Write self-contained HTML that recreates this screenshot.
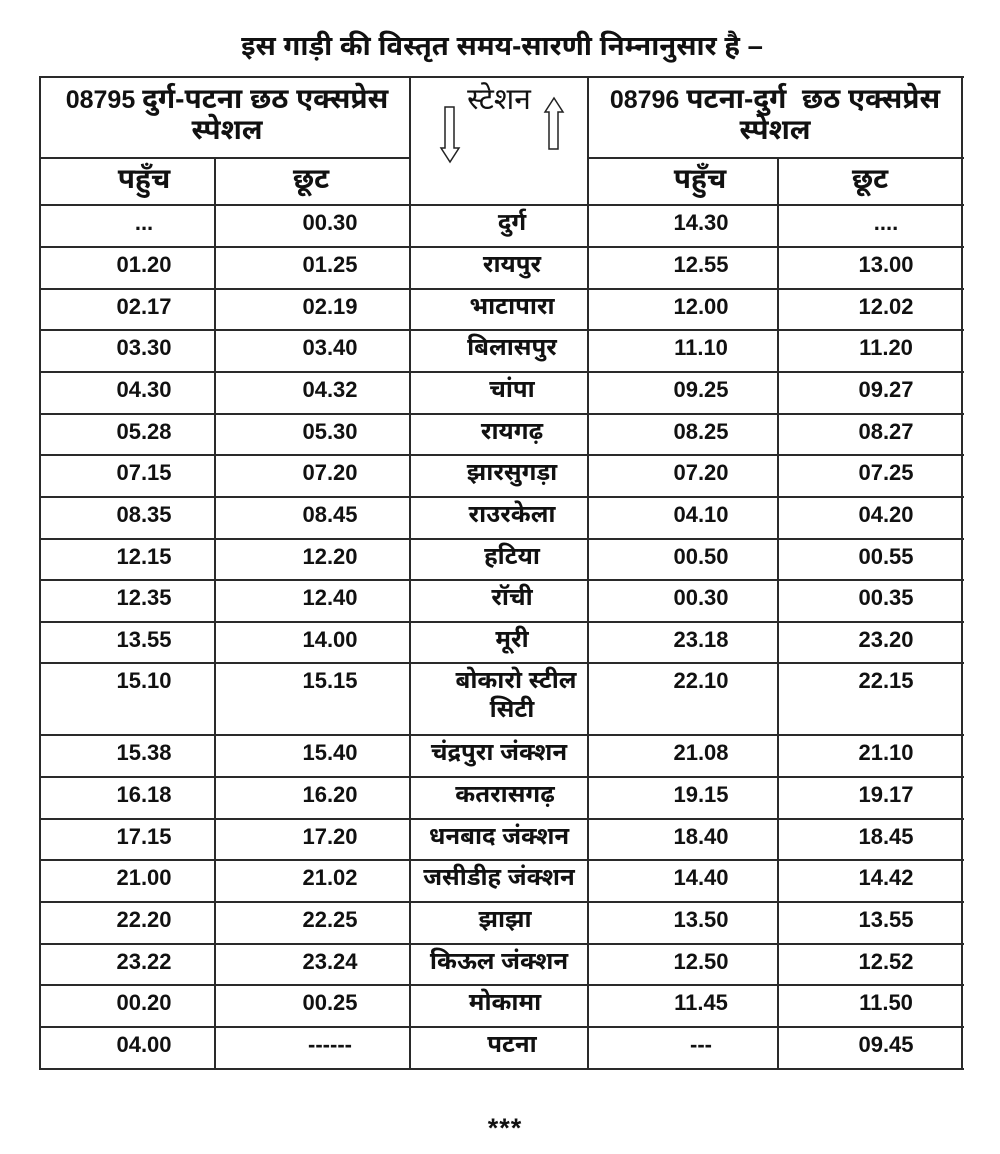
<!DOCTYPE html>
<html>
<head>
<meta charset="utf-8">
<style>
  html,body{margin:0;padding:0;background:#fff;}
  body{width:1000px;height:1154px;position:relative;overflow:hidden;
       font-family:"Liberation Sans","Noto Sans Devanagari","Lohit Devanagari","Mangal","DejaVu Sans",sans-serif;color:#111;}
  .h{position:absolute;height:2px;background:#2a2a2a;}
  .v{position:absolute;width:2px;background:#2a2a2a;}
  .t{position:absolute;text-align:center;white-space:nowrap;font-weight:bold;}
  .n{font-size:22px;line-height:35px;width:180px;}
  .s{font-size:24px;line-height:35px;width:240px;}
  .d{font-size:28px;}
</style>
</head>
<body>
<!-- Title -->
<div class="t" style="left:102px;width:800px;top:30px;font-size:27.5px;line-height:32px;">इस गाड़ी की विस्तृत समय-सारणी निम्नानुसार है –</div>

<!-- Grid lines: horizontal -->
<div class="h" style="left:40px;width:924px;top:76px;"></div>
<div class="h" style="left:40px;width:371px;top:157px;"></div>
<div class="h" style="left:588px;width:376px;top:157px;"></div>
<div class="h" style="left:40px;width:924px;top:204px;"></div>
<div class="h" style="left:40px;width:924px;top:246px;"></div>
<div class="h" style="left:40px;width:924px;top:288px;"></div>
<div class="h" style="left:40px;width:924px;top:329px;"></div>
<div class="h" style="left:40px;width:924px;top:371px;"></div>
<div class="h" style="left:40px;width:924px;top:413px;"></div>
<div class="h" style="left:40px;width:924px;top:454px;"></div>
<div class="h" style="left:40px;width:924px;top:496px;"></div>
<div class="h" style="left:40px;width:924px;top:538px;"></div>
<div class="h" style="left:40px;width:924px;top:579px;"></div>
<div class="h" style="left:40px;width:924px;top:621px;"></div>
<div class="h" style="left:40px;width:924px;top:662px;"></div>
<div class="h" style="left:40px;width:924px;top:734px;"></div>
<div class="h" style="left:40px;width:924px;top:776px;"></div>
<div class="h" style="left:40px;width:924px;top:818px;"></div>
<div class="h" style="left:40px;width:924px;top:859px;"></div>
<div class="h" style="left:40px;width:924px;top:901px;"></div>
<div class="h" style="left:40px;width:924px;top:943px;"></div>
<div class="h" style="left:40px;width:924px;top:984px;"></div>
<div class="h" style="left:40px;width:924px;top:1026px;"></div>
<div class="h" style="left:40px;width:924px;top:1068px;"></div>

<!-- vertical -->
<div class="v" style="left:39px;top:76px;height:994px;"></div>
<div class="v" style="left:214px;top:157px;height:913px;"></div>
<div class="v" style="left:409px;top:76px;height:994px;"></div>
<div class="v" style="left:587px;top:76px;height:994px;"></div>
<div class="v" style="left:777px;top:157px;height:913px;"></div>
<div class="v" style="left:961px;top:76px;height:994px;"></div>

<!-- Header -->
<div class="t" style="left:47px;width:360px;top:83px;font-size:25px;line-height:31px;">08795 <span class="d">दुर्ग-पटना छठ एक्सप्रेस</span></div>
<div class="t" style="left:47px;width:360px;top:114px;font-size:28px;line-height:31px;">स्पेशल</div>
<div class="t" style="left:595px;width:360px;top:83px;font-size:25px;line-height:31px;">08796 <span class="d">पटना-दुर्ग&nbsp; छठ एक्सप्रेस</span></div>
<div class="t" style="left:595px;width:360px;top:114px;font-size:28px;line-height:31px;">स्पेशल</div>

<div class="t" style="left:419px;width:160px;top:85px;font-size:30px;line-height:30px;font-weight:normal;">स्टेशन</div>
<svg style="position:absolute;left:0;top:0;" width="1000" height="200">
  <path d="M445,107 L454,107 L454,148 L459,148 L450,162 L441,148 L445,148 Z" fill="none" stroke="#222" stroke-width="1.5"/>
  <path d="M549,149 L558,149 L558,112 L563,112 L554,98 L545,112 L549,112 Z" fill="none" stroke="#222" stroke-width="1.5"/>
</svg>

<div class="t" style="left:64px;width:160px;top:163px;font-size:28px;line-height:31px;">पहुँच</div>
<div class="t" style="left:231px;width:160px;top:163px;font-size:28px;line-height:31px;">छूट</div>
<div class="t" style="left:620px;width:160px;top:163px;font-size:28px;line-height:31px;">पहुँच</div>
<div class="t" style="left:790px;width:160px;top:163px;font-size:28px;line-height:31px;">छूट</div>

<!-- Rows -->
<div class="t n" style="left:54px;top:205px;">...</div>
<div class="t n" style="left:240px;top:205px;">00.30</div>
<div class="t s" style="left:392px;top:205px;">दुर्ग</div>
<div class="t n" style="left:611px;top:205px;">14.30</div>
<div class="t n" style="left:796px;top:205px;">....</div>

<div class="t n" style="left:54px;top:247px;">01.20</div>
<div class="t n" style="left:240px;top:247px;">01.25</div>
<div class="t s" style="left:392px;top:247px;">रायपुर</div>
<div class="t n" style="left:611px;top:247px;">12.55</div>
<div class="t n" style="left:796px;top:247px;">13.00</div>

<div class="t n" style="left:54px;top:289px;">02.17</div>
<div class="t n" style="left:240px;top:289px;">02.19</div>
<div class="t s" style="left:392px;top:289px;">भाटापारा</div>
<div class="t n" style="left:611px;top:289px;">12.00</div>
<div class="t n" style="left:796px;top:289px;">12.02</div>

<div class="t n" style="left:54px;top:330px;">03.30</div>
<div class="t n" style="left:240px;top:330px;">03.40</div>
<div class="t s" style="left:392px;top:330px;">बिलासपुर</div>
<div class="t n" style="left:611px;top:330px;">11.10</div>
<div class="t n" style="left:796px;top:330px;">11.20</div>

<div class="t n" style="left:54px;top:372px;">04.30</div>
<div class="t n" style="left:240px;top:372px;">04.32</div>
<div class="t s" style="left:392px;top:372px;">चांपा</div>
<div class="t n" style="left:611px;top:372px;">09.25</div>
<div class="t n" style="left:796px;top:372px;">09.27</div>

<div class="t n" style="left:54px;top:414px;">05.28</div>
<div class="t n" style="left:240px;top:414px;">05.30</div>
<div class="t s" style="left:392px;top:414px;">रायगढ़</div>
<div class="t n" style="left:611px;top:414px;">08.25</div>
<div class="t n" style="left:796px;top:414px;">08.27</div>

<div class="t n" style="left:54px;top:455px;">07.15</div>
<div class="t n" style="left:240px;top:455px;">07.20</div>
<div class="t s" style="left:392px;top:455px;">झारसुगड़ा</div>
<div class="t n" style="left:611px;top:455px;">07.20</div>
<div class="t n" style="left:796px;top:455px;">07.25</div>

<div class="t n" style="left:54px;top:497px;">08.35</div>
<div class="t n" style="left:240px;top:497px;">08.45</div>
<div class="t s" style="left:392px;top:497px;">राउरकेला</div>
<div class="t n" style="left:611px;top:497px;">04.10</div>
<div class="t n" style="left:796px;top:497px;">04.20</div>

<div class="t n" style="left:54px;top:539px;">12.15</div>
<div class="t n" style="left:240px;top:539px;">12.20</div>
<div class="t s" style="left:392px;top:539px;">हटिया</div>
<div class="t n" style="left:611px;top:539px;">00.50</div>
<div class="t n" style="left:796px;top:539px;">00.55</div>

<div class="t n" style="left:54px;top:580px;">12.35</div>
<div class="t n" style="left:240px;top:580px;">12.40</div>
<div class="t s" style="left:392px;top:580px;">रॉची</div>
<div class="t n" style="left:611px;top:580px;">00.30</div>
<div class="t n" style="left:796px;top:580px;">00.35</div>

<div class="t n" style="left:54px;top:622px;">13.55</div>
<div class="t n" style="left:240px;top:622px;">14.00</div>
<div class="t s" style="left:392px;top:622px;">मूरी</div>
<div class="t n" style="left:611px;top:622px;">23.18</div>
<div class="t n" style="left:796px;top:622px;">23.20</div>

<div class="t n" style="left:54px;top:663px;">15.10</div>
<div class="t n" style="left:240px;top:663px;">15.15</div>
<div class="t s" style="left:396px;top:663px;">बोकारो स्टील</div>
<div class="t s" style="left:392px;top:692px;">सिटी</div>
<div class="t n" style="left:611px;top:663px;">22.10</div>
<div class="t n" style="left:796px;top:663px;">22.15</div>

<div class="t n" style="left:54px;top:735px;">15.38</div>
<div class="t n" style="left:240px;top:735px;">15.40</div>
<div class="t s" style="left:379px;top:735px;">चंद्रपुरा जंक्शन</div>
<div class="t n" style="left:611px;top:735px;">21.08</div>
<div class="t n" style="left:796px;top:735px;">21.10</div>

<div class="t n" style="left:54px;top:777px;">16.18</div>
<div class="t n" style="left:240px;top:777px;">16.20</div>
<div class="t s" style="left:385px;top:777px;">कतरासगढ़</div>
<div class="t n" style="left:611px;top:777px;">19.15</div>
<div class="t n" style="left:796px;top:777px;">19.17</div>

<div class="t n" style="left:54px;top:819px;">17.15</div>
<div class="t n" style="left:240px;top:819px;">17.20</div>
<div class="t s" style="left:379px;top:819px;">धनबाद जंक्शन</div>
<div class="t n" style="left:611px;top:819px;">18.40</div>
<div class="t n" style="left:796px;top:819px;">18.45</div>

<div class="t n" style="left:54px;top:860px;">21.00</div>
<div class="t n" style="left:240px;top:860px;">21.02</div>
<div class="t s" style="left:379px;top:860px;">जसीडीह जंक्शन</div>
<div class="t n" style="left:611px;top:860px;">14.40</div>
<div class="t n" style="left:796px;top:860px;">14.42</div>

<div class="t n" style="left:54px;top:902px;">22.20</div>
<div class="t n" style="left:240px;top:902px;">22.25</div>
<div class="t s" style="left:385px;top:902px;">झाझा</div>
<div class="t n" style="left:611px;top:902px;">13.50</div>
<div class="t n" style="left:796px;top:902px;">13.55</div>

<div class="t n" style="left:54px;top:944px;">23.22</div>
<div class="t n" style="left:240px;top:944px;">23.24</div>
<div class="t s" style="left:379px;top:944px;">किऊल जंक्शन</div>
<div class="t n" style="left:611px;top:944px;">12.50</div>
<div class="t n" style="left:796px;top:944px;">12.52</div>

<div class="t n" style="left:54px;top:985px;">00.20</div>
<div class="t n" style="left:240px;top:985px;">00.25</div>
<div class="t s" style="left:385px;top:985px;">मोकामा</div>
<div class="t n" style="left:611px;top:985px;">11.45</div>
<div class="t n" style="left:796px;top:985px;">11.50</div>

<div class="t n" style="left:54px;top:1027px;">04.00</div>
<div class="t n" style="left:240px;top:1027px;">------</div>
<div class="t s" style="left:392px;top:1027px;">पटना</div>
<div class="t n" style="left:611px;top:1027px;">---</div>
<div class="t n" style="left:796px;top:1027px;">09.45</div>

<!-- footer -->
<div class="t" style="left:405px;width:200px;top:1112px;font-size:27px;line-height:32px;letter-spacing:1px;">***</div>
</body>
</html>
